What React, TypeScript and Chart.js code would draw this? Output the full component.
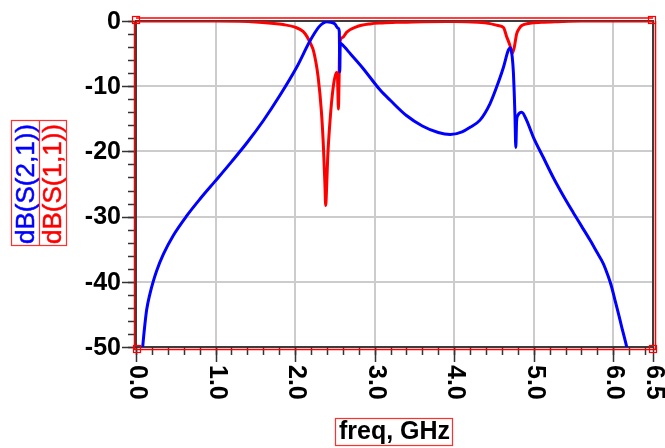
import React, { useEffect, useRef } from 'react';
import { Chart, registerables } from 'chart.js';

Chart.register(...registerables);

// ---- data ----
const S21_FREQ = [0.084, 0.1, 0.113, 0.134, 0.176, 0.218, 0.26, 0.343, 0.469, 0.637, 0.805, 0.993, 1.2, 1.4, 1.6, 1.81, 2.02, 2.19, 2.3, 2.355, 2.4, 2.45, 2.5, 2.54, 2.556, 2.562, 2.568, 2.59, 2.7, 2.85, 3.07, 3.2, 3.4, 3.6, 3.8, 3.95, 4.1, 4.2, 4.325, 4.45, 4.535, 4.62, 4.68, 4.71, 4.73, 4.745, 4.755, 4.765, 4.775, 4.785, 4.8, 4.85, 4.91, 4.995, 5.12, 5.246, 5.372, 5.498, 5.603, 5.708, 5.792, 5.875, 5.938, 5.98, 6.022, 6.064, 6.106, 6.148, 6.169, 6.18];
const S21_DB = [-50, -47.9, -46.4, -44.3, -41.8, -39.9, -38.3, -35.8, -32.9, -29.9, -27.3, -24.6, -21.6, -18.6, -15.3, -11.4, -7.1, -3.0, -0.9, -0.3, -0.1, -0.2, -0.45, -1.1, -1.6, -7.8, -3.4, -3.6, -5.1, -7.2, -10.6, -12.2, -14.5, -16.1, -17.1, -17.4, -17.0, -16.3, -15.2, -12.7, -10.1, -7.1, -4.5, -4.1, -5.5, -7.9, -10.9, -14.7, -19.4, -15.4, -14.5, -14.0, -15.2, -17.8, -20.9, -24.0, -26.8, -29.4, -31.5, -33.6, -35.4, -37.2, -39.2, -40.8, -42.8, -44.8, -46.9, -48.9, -50.0, -50.8];

const S11_FREQ = [0, 0.5, 1.0, 1.3, 1.5, 1.7, 1.85, 2.0, 2.1, 2.15, 2.2, 2.23, 2.26, 2.29, 2.33, 2.355, 2.375, 2.385, 2.395, 2.41, 2.44, 2.48, 2.52, 2.533, 2.545, 2.553, 2.562, 2.6, 2.65, 2.77, 2.94, 3.1, 3.3, 3.6, 4.0, 4.3, 4.45, 4.55, 4.62, 4.66, 4.7, 4.73, 4.755, 4.785, 4.82, 4.85, 4.95, 5.1, 5.3, 5.6, 6.5];
const S11_DB = [0, 0, 0, -0.05, -0.15, -0.35, -0.55, -0.95, -1.6, -2.4, -3.6, -4.5, -6.2, -8.6, -13.7, -18.9, -25, -28.3, -26, -21, -15.2, -10.1, -7.9, -8.5, -13.5, -9, -3.3, -2.5, -1.7, -0.9, -0.45, -0.3, -0.2, -0.1, -0.08, -0.2, -0.4, -0.7, -1.0, -2.4, -3.7, -5.0, -4.1, -2.0, -1.1, -0.7, -0.35, -0.2, -0.1, 0, 0];

const X_MAJOR = [0, 1, 2, 3, 4, 5, 6, 6.5];
const X_LABELS = ['0.0', '1.0', '2.0', '3.0', '4.0', '5.0', '6.0', '6.5'];
const Y_MAJOR = [0, -10, -20, -30, -40, -50];
const Y_LABELS = ['0', '-10', '-20', '-30', '-40', '-50'];
const X_MINOR_STEP = 0.2;
const Y_MINOR_STEP = 2;
const SERIES_NAMES = ['dB(S(2,1))', 'dB(S(1,1))'];
const X_TITLE = 'freq, GHz';

const FONT_FAMILY = '"Liberation Sans", Arial, sans-serif';

const decor = {
  id: 'decor',
  beforeDatasetsDraw(chart: any) {
    const { ctx, chartArea: a, scales } = chart;
    const xs = scales.x;
    const ys = scales.y;
    ctx.save();
    // plot frame
    ctx.strokeStyle = '#3c3c3c';
    ctx.lineWidth = 2;
    ctx.strokeRect(a.left, a.top, a.right - a.left, a.bottom - a.top);

    // tick marks
    ctx.lineWidth = 1.5;
    ctx.strokeStyle = '#333';
    for (let v = 0; v <= 6.5 + 1e-9; v += X_MINOR_STEP) {
      const px = Math.round(xs.getPixelForValue(v)) + 0.5;
      ctx.beginPath();
      ctx.moveTo(px, a.bottom);
      ctx.lineTo(px, a.bottom + 8);
      ctx.stroke();
    }
    X_MAJOR.forEach((v) => {
      const px = Math.round(xs.getPixelForValue(v)) + 0.5;
      ctx.beginPath();
      ctx.moveTo(px, a.bottom);
      ctx.lineTo(px, a.bottom + 15);
      ctx.stroke();
    });
    for (let v = -50; v <= 0 + 1e-9; v += Y_MINOR_STEP) {
      const py = Math.round(ys.getPixelForValue(v)) + 0.5;
      ctx.beginPath();
      ctx.moveTo(a.left - 8, py);
      ctx.lineTo(a.left, py);
      ctx.stroke();
    }
    Y_MAJOR.forEach((v) => {
      const py = Math.round(ys.getPixelForValue(v)) + 0.5;
      ctx.beginPath();
      ctx.moveTo(a.left - 14, py);
      ctx.lineTo(a.left, py);
      ctx.stroke();
    });

    // tick labels
    ctx.fillStyle = '#000';
    ctx.font = 'bold 25px ' + FONT_FAMILY;
    ctx.textAlign = 'right';
    ctx.textBaseline = 'middle';
    Y_MAJOR.forEach((v, i) => {
      ctx.fillText(Y_LABELS[i], a.left - 15, ys.getPixelForValue(v) + 1);
    });
    X_MAJOR.forEach((v, i) => {
      const px = xs.getPixelForValue(v);
      ctx.save();
      ctx.translate(px + 1, a.bottom + 18);
      ctx.rotate(Math.PI / 2);
      ctx.textAlign = 'left';
      ctx.textBaseline = 'middle';
      ctx.fillText(X_LABELS[i], 0, 0);
      ctx.restore();
    });

    // x title
    const cx = (a.left + a.right) / 2;
    ctx.textAlign = 'center';
    ctx.textBaseline = 'middle';
    ctx.fillText(X_TITLE, cx, 432);
    ctx.strokeStyle = '#ff3030';
    ctx.lineWidth = 1.2;
    ctx.strokeRect(335.5, 418.5, 117, 27);

    // y legend/title
    const cy = (a.top + a.bottom) / 2;
    ctx.font = '26px ' + FONT_FAMILY;
    const colors = ['#0000ff', '#ff0000'];
    const cols = [25.5, 53];
    SERIES_NAMES.forEach((name, i) => {
      ctx.save();
      ctx.translate(cols[i], cy);
      ctx.rotate(-Math.PI / 2);
      ctx.fillStyle = colors[i];
      ctx.strokeStyle = colors[i];
      ctx.lineWidth = 0.5;
      ctx.textAlign = 'center';
      ctx.textBaseline = 'middle';
      ctx.fillText(name, 0, 1);
      ctx.strokeText(name, 0, 1);
      ctx.restore();
    });
    ctx.strokeStyle = '#ff3030';
    ctx.lineWidth = 1.2;
    ctx.strokeRect(11.5, 120.5, 55, 125);
    ctx.beginPath();
    ctx.moveTo(39.5, 120.5);
    ctx.lineTo(39.5, 245.5);
    ctx.stroke();
    ctx.restore();
  },
  afterDraw(chart: any) {
    const { ctx, chartArea: a } = chart;
    ctx.save();
    ctx.strokeStyle = '#ff0000';
    ctx.lineWidth = 1.5;
    // selection box
    ctx.beginPath();
    ctx.moveTo(a.left, 18);
    ctx.lineTo(a.right, 18);
    ctx.moveTo(a.left - 1.5, a.top);
    ctx.lineTo(a.left - 1.5, a.bottom + 2.5);
    ctx.lineTo(a.right + 2.5, a.bottom + 2.5);
    ctx.lineTo(a.right + 2.5, a.top);
    ctx.stroke();
    // corner squares
    ctx.lineWidth = 1.2;
    const corners = [
      [a.left, 19.5],
      [a.right - 1, 19.5],
      [a.left + 1, a.bottom + 1.5],
      [a.right, a.bottom + 1.5],
    ];
    corners.forEach(([cx, cy]) => {
      ctx.strokeRect(Math.round(cx - 4) + 0.5, Math.round(cy - 4) + 0.5, 7, 7);
    });
    ctx.restore();
  },
};

export default function App() {
  const canvasRef = useRef<HTMLCanvasElement | null>(null);

  useEffect(() => {
    const canvas = canvasRef.current;
    if (!canvas) return;
    const chart = new Chart(canvas, {
      type: 'line',
      data: {
        datasets: [
          {
            label: SERIES_NAMES[1],
            data: S11_FREQ.map((f, i) => ({ x: f, y: S11_DB[i] })),
            borderColor: '#ff0000',
            backgroundColor: '#ff0000',
            borderWidth: 3,
            pointRadius: 0,
            cubicInterpolationMode: 'monotone',
            borderJoinStyle: 'round',
            order: 1,
          },
          {
            label: SERIES_NAMES[0],
            data: S21_FREQ.map((f, i) => ({ x: f, y: S21_DB[i] })),
            borderColor: '#0000ff',
            backgroundColor: '#0000ff',
            borderWidth: 3,
            pointRadius: 0,
            cubicInterpolationMode: 'monotone',
            borderJoinStyle: 'round',
            order: 0,
          },
        ],
      },
      options: {
        responsive: false,
        animation: false,
        events: [],
        layout: { padding: { top: 21, right: 12, left: 0, bottom: 0 } },
        plugins: { legend: { display: false }, tooltip: { enabled: false } },
        scales: {
          x: {
            type: 'linear',
            min: 0,
            max: 6.5,
            ticks: { display: false, stepSize: 1 },
            grid: { color: '#cccccc', lineWidth: 2, drawTicks: false },
            border: { display: false },
            afterFit: (s: any) => {
              s.height = 101;
            },
          },
          y: {
            type: 'linear',
            min: -50,
            max: 0,
            ticks: { display: false, stepSize: 10 },
            grid: { color: '#cccccc', lineWidth: 2, drawTicks: false },
            border: { display: false },
            afterFit: (s: any) => {
              s.width = 136;
            },
          },
        },
      },
      plugins: [decor],
    } as any);
    return () => chart.destroy();
  }, []);

  return (
    <div style={{ position: 'absolute', left: 0, top: 0, width: 665, height: 448, background: '#fff' }}>
      <canvas ref={canvasRef} width={665} height={448} style={{ display: 'block' }} />
    </div>
  );
}
